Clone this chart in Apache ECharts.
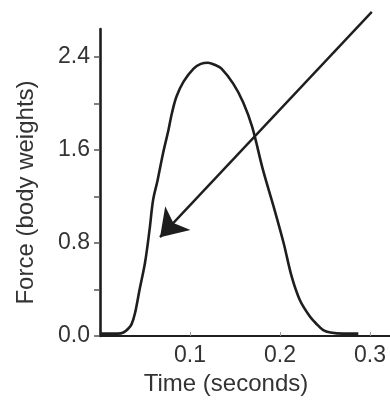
<!DOCTYPE html>
<html>
<head>
<meta charset="utf-8">
<script src="https://cdn.jsdelivr.net/npm/echarts@6/dist/echarts.min.js"></script>
<style>
  html, body { margin: 0; padding: 0; background: #fff; }
  #chart { width: 390px; height: 402px; }
</style>
</head>
<body>
<div id="chart"></div>
<script>
// time in seconds, force in body weights
const time = [0, 0.010, 0.020, 0.026, 0.031, 0.035, 0.039, 0.044, 0.050, 0.055, 0.059, 0.064, 0.070, 0.076, 0.080, 0.085, 0.093, 0.104, 0.112, 0.120, 0.128, 0.135, 0.148, 0.159, 0.169, 0.181, 0.193, 0.204, 0.213, 0.222, 0.233, 0.241, 0.248, 0.256, 0.270, 0.287]
const force = [0.02, 0.02, 0.02, 0.03, 0.06, 0.10, 0.20, 0.40, 0.63, 0.91, 1.17, 1.34, 1.57, 1.77, 1.92, 2.06, 2.19, 2.30, 2.34, 2.35, 2.33, 2.30, 2.17, 2.01, 1.80, 1.43, 1.11, 0.80, 0.51, 0.31, 0.17, 0.10, 0.05, 0.03, 0.02, 0.02]

const yTicks = [0, 0.4, 0.8, 1.2, 1.6, 2.0, 2.4]
const yLabels = [0, 0.8, 1.6, 2.4]
const xLabels = [0.1, 0.2, 0.3]

// annotation arrow: tail (upper right) -> tip
const arrowFrom = [0.302, 2.787]
const arrowTo = [0.0667, 0.85]

const chart = echarts.init(document.getElementById('chart'))
const ink = '#1e1e1e'
const txt = '#333'

chart.setOption({
  animation: false,
  backgroundColor: '#fff',
  grid: { left: 100, right: 0, top: 29, bottom: 66 },
  xAxis: {
    type: 'value',
    min: 0,
    max: 0.3222,
    interval: 0.1,
    name: 'Time (seconds)',
    nameLocation: 'middle',
    nameGap: 34,
    nameTextStyle: { color: txt, fontSize: 24, fontFamily: 'Liberation Sans', padding: [0, 38, 0, 0] },
    axisLine: { lineStyle: { color: ink, width: 2.2 } },
    axisTick: { show: true, inside: true, length: 4, customValues: xLabels, lineStyle: { color: '#999', width: 1 } },
    axisLabel: {
      customValues: xLabels,
      color: txt, fontSize: 23, fontFamily: 'Liberation Sans', margin: 8,
      formatter: v => v.toFixed(1),
    },
    splitLine: { show: false },
  },
  yAxis: {
    type: 'value',
    min: 0,
    max: 2.64,
    interval: 0.4,
    name: 'Force (body weights)',
    nameLocation: 'middle',
    nameGap: 62,
    nameTextStyle: { color: txt, fontSize: 24, fontFamily: 'Liberation Sans', padding: [0, 20, 0, 0] },
    axisLine: { show: true, lineStyle: { color: ink, width: 2.6 } },
    axisTick: { show: true, length: 6, customValues: yTicks, lineStyle: { color: '#555', width: 1.5 } },
    axisLabel: {
      customValues: yLabels,
      color: txt, fontSize: 23, fontFamily: 'Liberation Sans', margin: 10,
      formatter: v => v.toFixed(1),
    },
    splitLine: { show: false },
  },
  series: [
    {
      type: 'line',
      data: time.map((t, i) => [t, force[i]]),
      smooth: 0.35,
      symbol: 'none',
      lineStyle: { color: ink, width: 2.6 },
    },
    {
      type: 'lines',
      coordinateSystem: 'cartesian2d',
      clip: false,
      symbol: ['none', 'arrow'],
      symbolSize: [20, 26],
      lineStyle: { color: ink, width: 2.4, opacity: 1 },
      data: [{ coords: [arrowFrom, arrowTo] }],
    },
  ],
})
</script>
</body>
</html>
